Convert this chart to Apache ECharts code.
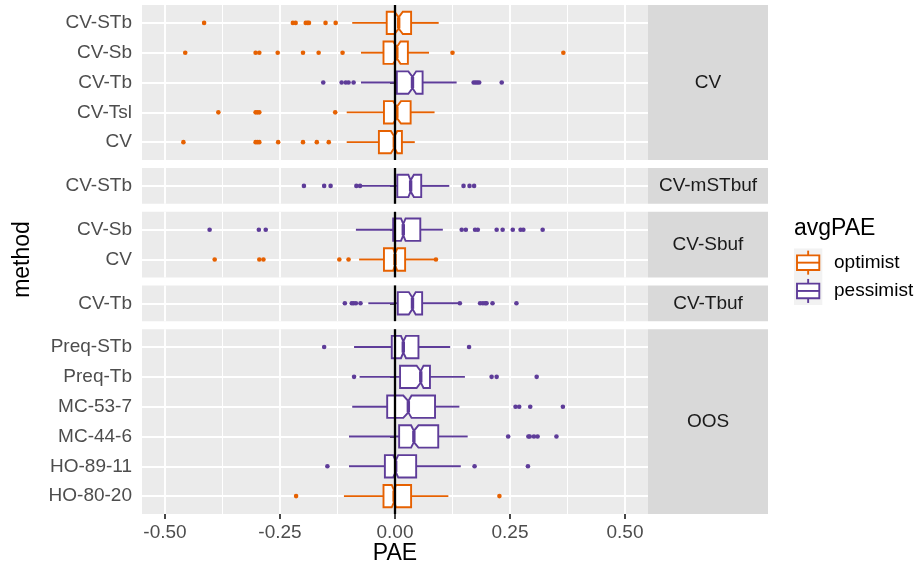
<!DOCTYPE html>
<html>
<head>
<meta charset="utf-8">
<script src="https://cdn.jsdelivr.net/npm/echarts@6/dist/echarts.min.js"></script>
<style>
  html, body { margin: 0; padding: 0; background: #ffffff; }
  #chart { width: 919px; height: 569px; }
</style>
</head>
<body>
<div id="chart"></div>
<script>
// Box statistics per row: [lower whisker, Q1, notch low, median, notch high, Q3, upper whisker]

// ---- facet: CV ----
const cvMethods = ['CV-STb', 'CV-Sb', 'CV-Tb', 'CV-Tsl', 'CV'];
const cvGroups = ['optimist', 'optimist', 'pessimist', 'optimist', 'optimist'];
const cvStats = [
  [-0.093, -0.018, -0.001, 0.008, 0.017, 0.035, 0.095],
  [-0.074, -0.025, -0.004, 0.004, 0.012, 0.028, 0.074],
  [-0.074, 0.004, 0.029, 0.038, 0.046, 0.060, 0.134],
  [-0.105, -0.024, -0.004, 0.004, 0.013, 0.034, 0.086],
  [-0.105, -0.035, -0.009, -0.0015, 0.005, 0.015, 0.043]
];
const cvOutliers = [
  [-0.415, -0.222, -0.216, -0.194, -0.190, -0.187, -0.151, -0.129],
  [-0.456, -0.303, -0.295, -0.255, -0.200, -0.166, -0.114, 0.125, 0.366],
  [-0.156, -0.116, -0.107, -0.101, -0.090, 0.171, 0.175, 0.179, 0.183, 0.232],
  [-0.384, -0.303, -0.299, -0.295, -0.130],
  [-0.460, -0.303, -0.299, -0.295, -0.254, -0.200, -0.170, -0.144]
];

// ---- facet: CV-mSTbuf ----
const mstMethods = ['CV-STb'];
const mstGroups = ['pessimist'];
const mstStats = [
  [-0.072, 0.005, 0.029, 0.034, 0.041, 0.057, 0.118]
];
const mstOutliers = [
  [-0.198, -0.154, -0.140, -0.084, -0.076, 0.149, 0.162, 0.172]
];

// ---- facet: CV-Sbuf ----
const sbufMethods = ['CV-Sb', 'CV'];
const sbufGroups = ['pessimist', 'optimist'];
const sbufStats = [
  [-0.085, -0.004, 0.013, 0.018, 0.023, 0.055, 0.104],
  [-0.078, -0.024, -0.004, 0.000, 0.005, 0.022, 0.087]
];
const sbufOutliers = [
  [-0.403, -0.296, -0.281, 0.145, 0.154, 0.174, 0.180, 0.221, 0.234, 0.256, 0.273, 0.279, 0.321],
  [-0.392, -0.295, -0.286, -0.121, -0.101, 0.089]
];

// ---- facet: CV-Tbuf ----
const tbufMethods = ['CV-Tb'];
const tbufGroups = ['pessimist'];
const tbufStats = [
  [-0.058, 0.006, 0.030, 0.038, 0.045, 0.059, 0.138]
];
const tbufOutliers = [
  [-0.109, -0.094, -0.090, -0.085, -0.075, 0.141, 0.185, 0.191, 0.196, 0.199, 0.212, 0.264]
];

// ---- facet: OOS ----
const oosMethods = ['Preq-STb', 'Preq-Tb', 'MC-53-7', 'MC-44-6', 'HO-89-11', 'HO-80-20'];
const oosGroups = ['pessimist', 'pessimist', 'pessimist', 'pessimist', 'pessimist', 'optimist'];
const oosStats = [
  [-0.089, -0.007, 0.013, 0.018, 0.024, 0.051, 0.120],
  [-0.077, 0.011, 0.047, 0.056, 0.062, 0.076, 0.152],
  [-0.093, -0.017, 0.018, 0.029, 0.036, 0.087, 0.140],
  [-0.100, 0.009, 0.035, 0.041, 0.051, 0.094, 0.158],
  [-0.100, -0.022, -0.004, 0.0015, 0.007, 0.046, 0.143],
  [-0.111, -0.025, -0.007, -0.002, 0.002, 0.035, 0.116]
];
const oosOutliers = [
  [-0.154, 0.161],
  [-0.089, 0.210, 0.221, 0.308],
  [0.262, 0.270, 0.294, 0.365],
  [0.246, 0.290, 0.293, 0.302, 0.310, 0.351],
  [-0.147, 0.173, 0.289],
  [-0.215, 0.227]
];

const facetLabels = ['CV', 'CV-mSTbuf', 'CV-Sbuf', 'CV-Tbuf', 'OOS'];
const groupNames = ['optimist', 'pessimist'];
const groupColors = ['#E66101', '#5E3C99'];

const xTicks = [-0.5, -0.25, 0, 0.25, 0.5];
const xMinorTicks = [-0.375, -0.125, 0.125, 0.375];
const xRange = [-0.55, 0.55];
const refLine = 0;

const facets = [
  { methods: cvMethods, groups: cvGroups, stats: cvStats, outliers: cvOutliers },
  { methods: mstMethods, groups: mstGroups, stats: mstStats, outliers: mstOutliers },
  { methods: sbufMethods, groups: sbufGroups, stats: sbufStats, outliers: sbufOutliers },
  { methods: tbufMethods, groups: tbufGroups, stats: tbufStats, outliers: tbufOutliers },
  { methods: oosMethods, groups: oosGroups, stats: oosStats, outliers: oosOutliers }
];

// layout (pixels)
const FONT = '"Liberation Sans", Arial, Helvetica, sans-serif';
const plotLeft = 142, plotRight = 648, plotTop = 5, plotBottom = 514;
const stripWidth = 120;
const facetGap = 8;
const rowPad = 0.6;           // discrete-axis expansion on each side
const boxWidth = 0.75;        // box height in row units
const notchWidth = 0.5;
const lineW = 1.9, medianW = 3.4;

const totalUnits = facets.reduce((s, f) => s + f.methods.length - 1 + 2 * rowPad, 0);
const unit = (plotBottom - plotTop - facetGap * (facets.length - 1)) / totalUnits;

const grids = [], xAxes = [], yAxes = [], series = [], graphics = [];
let cursor = plotTop;

function renderBox(params, api) {
  const row = api.value(0);
  const y = api.coord([0, row])[1];
  const h = api.size([0, 1])[1] * boxWidth / 2;
  const hn = h * notchWidth;
  const X = (i) => api.coord([api.value(i), row])[0];
  const lw = X(1), q1 = X(2), nlo = X(3), med = X(4), nhi = X(5), q3 = X(6), uw = X(7);
  const col = groupColors[api.value(8)];
  return {
    type: 'group',
    children: [
      { type: 'line', shape: { x1: lw, y1: y, x2: q1, y2: y }, style: { stroke: col, lineWidth: lineW } },
      { type: 'line', shape: { x1: q3, y1: y, x2: uw, y2: y }, style: { stroke: col, lineWidth: lineW } },
      {
        type: 'polygon',
        shape: {
          points: [
            [q1, y - h], [nlo, y - h], [med, y - hn], [nhi, y - h], [q3, y - h],
            [q3, y + h], [nhi, y + h], [med, y + hn], [nlo, y + h], [q1, y + h]
          ]
        },
        style: { fill: '#ffffff', stroke: col, lineWidth: lineW, lineJoin: 'miter' }
      },
      { type: 'line', shape: { x1: med, y1: y - hn, x2: med, y2: y + hn }, style: { stroke: col, lineWidth: medianW } }
    ]
  };
}

facets.forEach((f, fi) => {
  const n = f.methods.length;
  const height = (n - 1 + 2 * rowPad) * unit;
  const top = cursor;
  cursor += height + facetGap;
  const isLast = fi === facets.length - 1;

  grids.push({
    left: plotLeft, top: top, width: plotRight - plotLeft, height: height,
    show: true, backgroundColor: '#EBEBEB', borderWidth: 0, containLabel: false
  });

  // minor vertical grid lines
  xAxes.push({
    type: 'value', gridIndex: fi, min: xRange[0], max: xRange[1],
    axisLine: { show: false }, axisLabel: { show: false },
    axisTick: { show: false, customValues: xMinorTicks },
    splitLine: { show: true, lineStyle: { color: '#ffffff', width: 1.1 } }
  });
  // major vertical grid lines, ticks and labels
  xAxes.push({
    type: 'value', gridIndex: fi, min: xRange[0], max: xRange[1], position: 'bottom',
    axisLine: { show: false },
    axisTick: { show: isLast, customValues: xTicks, length: 5, lineStyle: { color: '#333333', width: 1.8 } },
    axisLabel: {
      show: isLast, customValues: xTicks, margin: 9,
      color: '#4D4D4D', fontSize: 19, fontFamily: FONT,
      formatter: (v) => v.toFixed(2)
    },
    splitLine: { show: true, lineStyle: { color: '#ffffff', width: 1.9 } }
  });

  const rows = f.methods.map((_, i) => i);
  yAxes.push({
    type: 'value', gridIndex: fi, inverse: true,
    min: -rowPad, max: n - 1 + rowPad,
    axisLine: { show: false },
    axisTick: { show: true, customValues: rows, length: 5, lineStyle: { color: '#333333', width: 1.8 } },
    axisLabel: {
      show: true, customValues: rows, margin: 10,
      color: '#4D4D4D', fontSize: 19, fontFamily: FONT,
      formatter: (v) => f.methods[Math.round(v)]
    },
    splitLine: { show: true, lineStyle: { color: '#ffffff', width: 1.9 } }
  });

  const boxData = f.stats.map((s, i) => [i].concat(s, [groupNames.indexOf(f.groups[i])]));
  series.push({
    type: 'custom', name: facetLabels[fi] + ' boxes',
    xAxisIndex: fi * 2 + 1, yAxisIndex: fi,
    renderItem: renderBox,
    encode: { x: [1, 2, 3, 4, 5, 6, 7], y: 0 },
    data: boxData, z: 3, silent: true
  });

  const pts = [];
  f.outliers.forEach((arr, i) => {
    const g = groupNames.indexOf(f.groups[i]);
    arr.forEach((v) => pts.push([v, i, g]));
  });
  series.push({
    type: 'scatter', name: facetLabels[fi] + ' outliers',
    xAxisIndex: fi * 2 + 1, yAxisIndex: fi,
    symbol: 'circle', symbolSize: 4.6,
    itemStyle: { color: (p) => groupColors[p.data[2]], opacity: 1 },
    data: pts, z: 4, silent: true,
    markLine: {
      silent: true, symbol: ['none', 'none'], z: 6,
      label: { show: false },
      lineStyle: { color: '#000000', width: 2.3, type: 'solid' },
      emphasis: { disabled: true },
      data: [{ xAxis: refLine }]
    }
  });

  // facet strip on the right
  graphics.push({
    type: 'rect', left: plotRight, top: top,
    shape: { width: stripWidth, height: height },
    style: { fill: '#D9D9D9' }, silent: true
  });
  graphics.push({
    type: 'text', x: plotRight + stripWidth / 2, y: top + height / 2,
    style: {
      text: facetLabels[fi], fill: '#1A1A1A', fontSize: 19, fontFamily: FONT,
      align: 'center', verticalAlign: 'middle'
    }, silent: true
  });
});

// axis titles
graphics.push({
  type: 'text', x: (plotLeft + plotRight) / 2, y: 554,
  style: { text: 'PAE', fill: '#000000', fontSize: 23, fontFamily: FONT, align: 'center', verticalAlign: 'middle' }
});
graphics.push({
  type: 'text', x: 23, y: (plotTop + plotBottom) / 2, rotation: Math.PI / 2,
  style: { text: 'method', fill: '#000000', fontSize: 23, fontFamily: FONT, align: 'center', verticalAlign: 'middle' }
});

// legend
const legX = 794, legKeyTop = 248.5, legKeySize = 28.3;
graphics.push({
  type: 'text', x: legX, y: 229,
  style: { text: 'avgPAE', fill: '#000000', fontSize: 23, fontFamily: FONT, align: 'left', verticalAlign: 'middle' }
});
graphics.push({
  type: 'rect', shape: { x: legX, y: legKeyTop, width: legKeySize, height: legKeySize * groupNames.length },
  style: { fill: '#F2F2F2' }
});
groupNames.forEach((g, i) => {
  const cx = legX + legKeySize / 2;
  const cy = legKeyTop + legKeySize * (i + 0.5);
  const col = groupColors[i];
  graphics.push({ type: 'line', shape: { x1: cx, y1: cy - 12, x2: cx, y2: cy + 12 }, style: { stroke: col, lineWidth: lineW } });
  graphics.push({ type: 'rect', shape: { x: legX + 3, y: cy - 7.3, width: legKeySize - 6, height: 14.6 }, style: { fill: '#ffffff', stroke: col, lineWidth: lineW } });
  graphics.push({ type: 'line', shape: { x1: legX + 3, y1: cy, x2: legX + legKeySize - 3, y2: cy }, style: { stroke: col, lineWidth: lineW } });
  graphics.push({
    type: 'text', x: 834, y: cy,
    style: { text: g, fill: '#000000', fontSize: 19, fontFamily: FONT, align: 'left', verticalAlign: 'middle' }
  });
});

const chart = echarts.init(document.getElementById('chart'), null, { renderer: 'canvas' });
chart.setOption({
  animation: false,
  backgroundColor: '#ffffff',
  grid: grids,
  xAxis: xAxes,
  yAxis: yAxes,
  series: series,
  graphic: graphics,
  tooltip: { show: false }
});
</script>
</body>
</html>
